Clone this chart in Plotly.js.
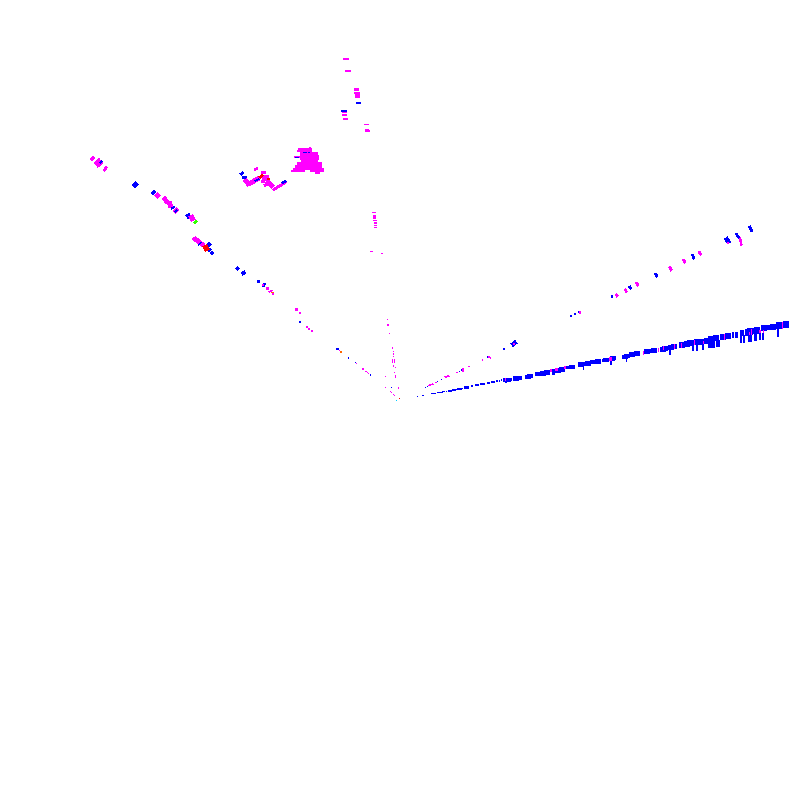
<!DOCTYPE html>
<html><head><meta charset="utf-8">
<script src="https://cdn.plot.ly/plotly-3.0.1.min.js"></script>
<style>html,body{margin:0;padding:0;background:#fff}#c{width:800px;height:800px}
.js-fill{shape-rendering:crispEdges}</style></head>
<body><div id="c"></div>
<script>
// boxes: [x0,x1,y0,y1]   strokes: [x0,y0,x1,y1,thickness]   bands: [x0,x1,yTop,yBottom]
const bandRuns = [[422,424,395,396.2],[431,436,393,394.2],[437,443,392,393.2],[442,445,391,392.4],[446,447,390.5,391.6],[448,452,390,392],[452,456,389,390.8],[456,463,388,390],[464,469,386,389],[471,473,385,387],[475,479,384,386],[480,485,383,385],[487,490,382,384],[491,495,381,383],[496,498,380,382],[499,500,380,382],[501,502,379,381],[503,512,377.5,382],[513,522,375.5,381],[525,533,374,379],[535,540,372,376],[540,550,370,376],[552,555,369,375],[555,565,367,373],[566,575,365,369.5],[578,591,361,367],[590,601,359,364.5],[602,609,358,362.5],[609,616,356,361],[622,630,354,359],[629,640,351,357],[644,657,348,354],[660,668,346,352],[668,677,344,350],[679,690,341,348],[687,700,339,346],[697,710,338,345],[708,719,335,342],[720,731,333,340],[732,734,332,338],[735,738,332,338],[740,744,330,336],[745,751,329,336],[747,760,327,335],[761,776,324,331],[776,789,321,329]];
const bandSticks = [[417,418,396,397],[425,426,387,388],[505,507,380,383],[509,511,380,382],[583,584,366,370],[610,612,360,365],[626,627,357,362],[669,671,350,355],[692,694,345,351],[696,698,345,351],[702,704,344,350],[708,715,341,348],[716,720,340,347],[740,742,335,343],[743,745,335,343],[748,752,335,342],[754,757,333,341],[759,761,333,340],[762,764,333,340],[777,779,328,337]];
const blueBoxes = [[356,361,102,104],[341,347,110,111.5],[242,247,176,179],[257,260,280,283],[299,301,321,323],[336,339,348,350],[348,349,357,359],[355,356,362,363],[370,371,374,376],[391,392,387,388],[417,418,396,397],[427,428,386,387],[437,438,381,382],[441,442,379,380],[459,460,371,372],[461,462,369,371],[487,488,356,358],[503,505,348,350],[570,572,315,317],[574,576,313,315],[578,580,311,313],[611,613,295,298]];
const blueStrokes = [[240.5,174.5,243,172.5,3],[133.5,186.5,137,183,4.5],[152,194,155,191,4],[187,217,190,215,5],[207,246.5,210,243.5,4],[208.5,251,210.5,249,3],[211,254,213,252,4],[236.5,269.5,238.5,267.5,4],[242,274,245,272,4],[263.5,286.5,264.5,283.5,3],[512,345,516,342,4.5],[629.5,286.5,631,289,3],[655.5,273.5,657,277,3],[692.5,254.5,694,259,3],[726,238,729,243,4.5],[736,233.5,739,238,3],[749.5,226.5,752,231.5,3]];
const blueTopBoxes = [[295,299,156.5,157.5],[303,307,151.5,152.5],[308,310,152,153]];
const blueTopStrokes = [[255,181,259,179,2],[282,183,286,181,2.5],[100,163,102,161,1.5],[171.5,208.5,174.5,207,2.5],[175,212,177,210,1.5],[198.5,245,201,242.5,1.5]];
const magentaBoxes = [[343,349,58,60],[345,351,70,72],[354,359,88,91],[354,360,92,94],[355,360,94,98],[342,347,111.5,113],[342,347,114,116],[343,348,118,120],[364,369,124,125],[365,369,129,132],[369,370,130,132],
[298,312,148,150],[309,311,147,148],[297,312,150,152],[300,318,152,155],[300,319,155,160],[294,300,156,158],[301,318,160,162],[297,322,162,165],[295,322,165,168],[293,324,168,170],[291,305,170,172],[310,324,170,172],[315,320,172,174],
[261,266,171,174],[262,269,175,181],[261,265,180,183],
[372,376,212,213],[373,376,215,219],[373,377,220,221],[374,377,222,224],[374,377,225,226],[374,377,227,228],[370,373,251,252],[381,383,253,254],
[262,264,284,286],[266,269,287,290],[272,274,293,295],[295,298,308,311],[299,301,312,314],[306,308,326,328],[308,310,328,330],[311,313,330,332],[339,340,350,351],[356,357,363,364],[362,364,368,370],[365,367,371,372],[367,368,372,373],[368,369,373,374],
[385,386,376,377],[385,386,387,388],[398,399,387,389],[390,391,391,392],[391,392,392,393],[393,394,394,395],[394,395,395,396],
[387,388,319,320],[387,389,324,326],[389,390,333,334],[392,393,347,349],[393,394,351,352],[393,394,353,355],[393,394,356,357],[392,393,359,363],[394,395,359,363],[393,394,365,367],[395,396,367,368],[394,395,372,373],[395,396,375,378],
[435,437,382,383],[456,458,372,373],[462,464,368,372],[468,470,366,367],[482,483,359,361],[488,490,356,358],[490,491,357,359],[513,515,343,345],[579,581,311,314],
[505,506,378,381],[550,552,369,372],[555,558,368,371],[564,566,366,369],[609,612,357,361],[643,644,351,355],[658,659,348,352],[663,664,346,350],[674,675,344,349],[681,682,343,348],[694,695,340,345],[703,704,341,344],[724,725,334,340],[751,752,329,335],[749,750,332,335],[759,761,330,333],[763,764,330,333],[782,783,322,329],[727,729,242,244]];
const magentaStrokes = [[254.5,170,257.5,168,3],[245,179.5,249,185,5],[249,184,259,178,5],[267,181,273,187,5],[264.5,185.5,270,183,3],[273,190,286,182,3],
[91,160,94,157,4],[96,165,101,161,7],[104,171,106.5,167,3],[156,197,159,194,5],[164,201,167,199,7],[168,205,172,204,7],[174.5,212,177.5,209,4],[190,219,194,217,6],[193.5,240,196.5,237.5,4],[197,243,200,240,5],[201,246,203.5,243,4],
[269,292,272,290.5,2],[429,385.5,433,384,1.5],[445,377,449,376,2],
[616,294,617.5,296.5,3],[625,289,626.5,292,3],[636.5,282.5,638,286,3],[669.5,267,671.5,270.5,3],[683.5,259.5,685,263,3],[699,251.5,701,255,3],[740,238,741.5,245,2.5]];
const redBoxes = [[267,270,178,180],[399,400,398,399]];
const redStrokes = [[259.5,177.5,263,175,3],[204,249,208,247,6]];
const orangeBoxes = [[271,274,292,293],[340,342,351,353]];
const greenStrokes = [[194.5,223,196.5,221,3]];
const cyanBoxes = [[396,397,400,401]];
const bandSlope = 0.08;

function add(px,py,pts){pts.forEach(p=>{px.push(p[0]);py.push(p[1]);});px.push(pts[0][0]);py.push(pts[0][1]);px.push(null);py.push(null);}
function quads(boxes,strokes,bands){
  const x=[],y=[];
  (boxes||[]).forEach(b=>add(x,y,[[b[0],b[2]],[b[1],b[2]],[b[1],b[3]],[b[0],b[3]]]));
  (strokes||[]).forEach(s=>{
    const dx=s[2]-s[0],dy=s[3]-s[1],l=Math.hypot(dx,dy)||1,ux=dx/l,uy=dy/l,nx=-uy*s[4]/2,ny=ux*s[4]/2,e=0.5;
    const a=[s[0]-ux*e,s[1]-uy*e],c=[s[2]+ux*e,s[3]+uy*e];
    add(x,y,[[a[0]-nx,a[1]-ny],[c[0]-nx,c[1]-ny],[c[0]+nx,c[1]+ny],[a[0]+nx,a[1]+ny]]);
  });
  (bands||[]).forEach(b=>{
    const d=Math.min((b[1]-b[0])*bandSlope,Math.max(0,b[3]-b[2]-1));
    add(x,y,[[b[0],b[2]+d],[b[1],b[2]],[b[1],b[3]-d],[b[0],b[3]]]);
  });
  return {x,y};
}
function tr(q,color){return {x:q.x,y:q.y,type:'scatter',mode:'lines',fill:'toself',fillcolor:color,line:{width:0,color:color},hoverinfo:'skip',showlegend:false,connectgaps:false};}
const traces=[
  tr(quads(blueBoxes.concat(bandSticks),blueStrokes,bandRuns),'#0000ff'),
  tr(quads(magentaBoxes,magentaStrokes),'#ff00ff'),
  tr(quads(blueTopBoxes,blueTopStrokes),'#0000ff'),
  tr(quads(redBoxes,redStrokes),'#ff0000'),
  tr(quads(orangeBoxes),'#ff6600'),
  tr(quads([],greenStrokes),'#33ff00'),
  tr(quads(cyanBoxes),'#00ccff')
];
const hidden={range:[0,800],visible:false,fixedrange:true};
Plotly.newPlot('c',traces,{
  width:800,height:800,margin:{l:0,r:0,t:0,b:0},paper_bgcolor:'#fff',plot_bgcolor:'#fff',showlegend:false,
  xaxis:Object.assign({},hidden),yaxis:Object.assign({},hidden,{range:[800,0]})
},{displayModeBar:false,staticPlot:true});
</script></body></html>
